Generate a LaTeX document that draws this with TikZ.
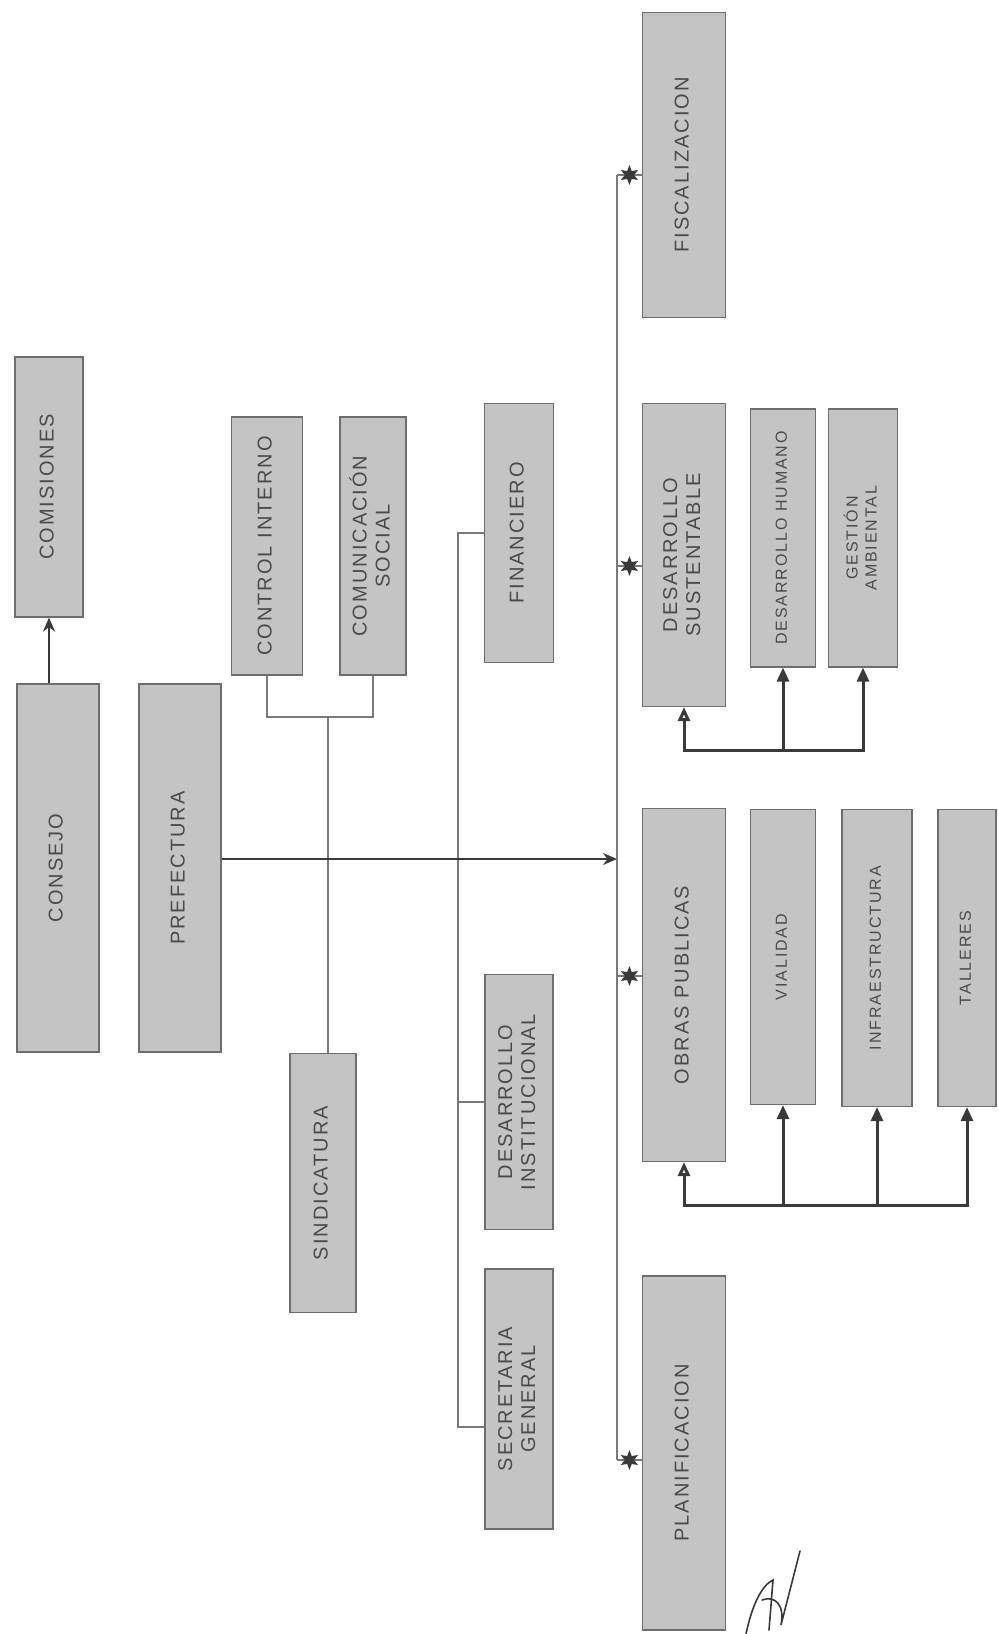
\documentclass[tikz,border=0pt]{standalone}
\usepackage{fontspec}
\usetikzlibrary{arrows.meta,shapes.geometric}
\setmainfont{Liberation Sans}
\newfontfamily\orgfont{Liberation Sans}[LetterSpace=10]
\newfontfamily\subfont{Liberation Sans}[LetterSpace=12]
\definecolor{boxfill}{HTML}{C4C4C4}
\definecolor{boxline}{HTML}{6E6E6E}
\definecolor{txt}{HTML}{4A4A4A}
\definecolor{wire}{HTML}{7A7A7A}
\definecolor{ink}{HTML}{3A3A3A}
\newcommand{\vlab}[1]{\rotatebox{90}{\begin{tabular}{@{}c@{}}#1\end{tabular}}}
\tikzset{
  orgbox/.style={draw=boxline,line width=0.6pt,fill=boxfill,inner sep=0pt,text=txt,font=\orgfont\fontsize{10}{11.5}\selectfont},
  subbox/.style={orgbox,font=\subfont\fontsize{8}{9.5}\selectfont},
  ln/.style={draw=wire,line width=0.7pt},
  brk/.style={draw=ink,line width=1.5pt},
  ar/.style={draw=ink,line width=1pt,-{Stealth[length=7pt,width=6pt]}},
  tri/.tip={Triangle[length=7pt,width=6pt]},
  otri/.tip={Triangle[open,length=7pt,width=6pt]},
  tipstar/.style={star,star points=6,star point ratio=2.2,fill=ink,draw=none,inner sep=0pt,minimum size=10pt},
  sig/.style={draw=ink,line width=0.8pt,line cap=round},
}
\begin{document}
\begin{tikzpicture}[x=0.5pt,y=-0.5pt]
\useasboundingbox (0,0) rectangle (999,1634);
\node[orgbox,minimum width=34pt,minimum height=130pt] (comis) at (49,487) {\vlab{COMISIONES}};
\node[orgbox,minimum width=41pt,minimum height=184pt] (consejo) at (58,868) {\vlab{CONSEJO}};
\node[orgbox,minimum width=41pt,minimum height=184pt] (prefect) at (180,868) {\vlab{PREFECTURA}};
\node[orgbox,minimum width=35.5pt,minimum height=129pt] (ctrl) at (267,546) {\vlab{CONTROL INTERNO}};
\node[orgbox,minimum width=33pt,minimum height=129pt] (comsoc) at (373,546) {\vlab{COMUNICACIÓN\\SOCIAL}};
\node[orgbox,minimum width=33pt,minimum height=129.5pt] (sind) at (323,1183) {\vlab{SINDICATURA}};
\node[orgbox,minimum width=34.5pt,minimum height=129.5pt] (finan) at (519,533) {\vlab{FINANCIERO}};
\node[orgbox,minimum width=34pt,minimum height=127.5pt] (desins) at (519,1102) {\vlab{DESARROLLO\\INSTITUCIONAL}};
\node[orgbox,minimum width=34pt,minimum height=130pt] (secgen) at (519,1399) {\vlab{SECRETARIA\\GENERAL}};
\node[orgbox,minimum width=41.5pt,minimum height=152.5pt] (fisc) at (684,165) {\vlab{FISCALIZACION}};
\node[orgbox,minimum width=41.5pt,minimum height=151.5pt] (dessus) at (684,555) {\vlab{DESARROLLO\\SUSTENTABLE}};
\node[subbox,minimum width=32.5pt,minimum height=129pt] (deshum) at (783,538) {\vlab{DESARROLLO HUMANO}};
\node[subbox,minimum width=34.5pt,minimum height=129pt] (gesamb) at (863,538) {\vlab{GESTIÓN\\AMBIENTAL}};
\node[orgbox,minimum width=41.5pt,minimum height=176.5pt] (obras) at (684,985) {\vlab{OBRAS PUBLICAS}};
\node[subbox,minimum width=32.5pt,minimum height=147.5pt] (vial) at (783,957) {\vlab{VIALIDAD}};
\node[subbox,minimum width=35pt,minimum height=148.5pt] (infra) at (877,958) {\vlab{INFRAESTRUCTURA}};
\node[subbox,minimum width=29pt,minimum height=148.5pt] (tall) at (967,958) {\vlab{TALLERES}};
\node[orgbox,minimum width=41.5pt,minimum height=177pt] (planif) at (684,1453) {\vlab{PLANIFICACION}};

\draw[ar] (comis.south |- consejo.north) -- (comis.south);

\coordinate (jsind) at (328,717);
\draw[ln] (ctrl.south) |- (jsind) -| (comsoc.south);
\draw[ln] (jsind) -- (jsind |- sind.north);

\coordinate (adm) at (458,1427);
\draw[ln] (finan.west) -| (adm) -- (adm -| secgen.west);
\draw[ln] (desins.west) -- (desins.west -| adm);

\coordinate (mtop) at (617,175);
\coordinate (mbot) at (617,1460);
\coordinate (pin) at (617,859);
\draw[ln] (mtop) -- (mbot);
\draw[ar] (pin -| prefect.east) -- (pin);
\foreach \y/\b in {175/fisc,566/dessus,976/obras,1460/planif}{
  \coordinate (stub) at (617,\y);
  \draw[ln] (stub) -- node[tipstar]{} (stub -| \b.west);
}

\coordinate (dsb) at (684,750);
\draw[brk,tri-otri] (gesamb.south) |- (dsb) -- (dessus.south);
\draw[brk,-tri] (deshum.south |- dsb) -- (deshum.south);

\coordinate (opb) at (684,1205);
\draw[brk,tri-otri] (tall.south) |- (opb) -- (obras.south);
\draw[brk,-tri] (vial.south |- opb) -- (vial.south);
\draw[brk,-tri] (infra.south |- opb) -- (infra.south);

\draw[sig] (746,1634) .. controls (752,1605) and (762,1585) .. (773,1580) -- (769,1630);
\draw[sig] (762,1600) .. controls (775,1595) and (785,1605) .. (781,1625) -- (800,1551);
\end{tikzpicture}
\end{document}
